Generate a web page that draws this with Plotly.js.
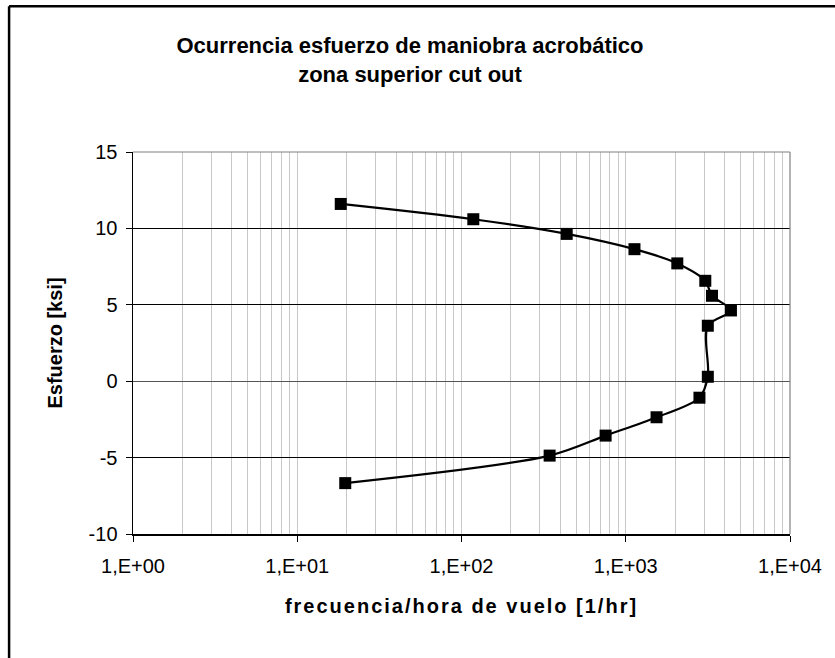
<!DOCTYPE html>
<html>
<head>
<meta charset="utf-8">
<script src="https://cdn.plot.ly/plotly-3.0.1.min.js"></script>
<style>
  html, body { margin: 0; padding: 0; background: #fff; }
  #chart { width: 835px; height: 658px; }
  .xtitle { letter-spacing: 2px; }
</style>
</head>
<body>
<div id="chart"></div>
<script>
// Data
const frecuencia = [18.4, 118, 437, 1130, 2060, 3050, 3350, 4370, 3160, 3160, 2810, 1540, 754, 344, 19.6];
const esfuerzo   = [11.6, 10.6, 9.64, 8.64, 7.71, 6.57, 5.59, 4.63, 3.63, 0.29, -1.08, -2.36, -3.56, -4.87, -6.67];

const xTickVals  = [1, 10, 100, 1000, 10000];
const xTickText  = ['1,E+00', '1,E+01', '1,E+02', '1,E+03', '1,E+04'];
const yTickVals  = [-10, -5, 0, 5, 10, 15];
const yTickText  = ['-10', '-5', '0', '5', '10', '15'];

const titleText  = 'Ocurrencia esfuerzo de maniobra acrobático<br>zona superior cut out';
const xTitleText = 'frecuencia/hora de vuelo [1/hr]';
const yTitleText = 'Esfuerzo [ksi]';

// minor grid positions (2..9 within each decade)
const minorVals = [];
for (let d = 0; d < 4; d++) {
  for (let m = 2; m <= 9; m++) minorVals.push(m * Math.pow(10, d));
}

const FONT = 'Liberation Sans, Arial, sans-serif';

const trace = {
  x: frecuencia,
  y: esfuerzo,
  type: 'scatter',
  mode: 'lines+markers',
  line: { color: '#000', width: 2.2, shape: 'spline', smoothing: 0.9 },
  marker: { symbol: 'square', size: 12, color: '#000' },
  hoverinfo: 'x+y',
  showlegend: false
};

const layout = {
  width: 835,
  height: 658,
  paper_bgcolor: '#fff',
  plot_bgcolor: '#fff',
  margin: { l: 133, r: 44.5, t: 151.7, b: 123.7 },
  font: { family: FONT, color: '#000', size: 20 },
  title: {
    text: titleText,
    font: { family: FONT, size: 22, color: '#000', weight: 'bold' },
    x: 410 / 835, xref: 'container', xanchor: 'center',
    y: 1 - 53 / 658, yref: 'container', yanchor: 'top'
  },
  xaxis: {
    type: 'log',
    range: [0, 4],
    tickmode: 'array',
    tickvals: xTickVals,
    ticktext: xTickText,
    ticks: 'outside',
    ticklen: 6,
    tickwidth: 1,
    tickcolor: '#000',
    ticklabelstandoff: 7,
    tickfont: { family: FONT, size: 20, color: '#000' },
    showline: true,
    linecolor: '#000',
    linewidth: 1.5,
    showgrid: true,
    gridcolor: '#c8c8c8',
    gridwidth: 1,
    zeroline: false,
    minor: { tickvals: minorVals, showgrid: true, gridcolor: '#c8c8c8', gridwidth: 1, ticks: '' },
    title: { text: xTitleText, font: { family: FONT, size: 20, color: '#000', weight: 'bold' }, standoff: 23 }
  },
  yaxis: {
    range: [-10, 15],
    tickmode: 'array',
    tickvals: yTickVals,
    ticktext: yTickText,
    ticks: 'outside',
    ticklen: 6,
    tickwidth: 1,
    tickcolor: '#000',
    ticklabelstandoff: 4,
    tickfont: { family: FONT, size: 20, color: '#000' },
    showline: true,
    linecolor: '#000',
    linewidth: 1.5,
    showgrid: true,
    gridcolor: '#000',
    gridwidth: 1,
    zeroline: true,
    zerolinecolor: '#555',
    zerolinewidth: 1,
    title: { text: yTitleText, font: { family: FONT, size: 20, color: '#000', weight: 'bold' }, standoff: 20 }
  },
  shapes: [
    // grey plot-area border (top and right)
    { type: 'line', xref: 'paper', yref: 'paper', x0: 0, x1: 1, y0: 1, y1: 1, line: { color: '#808080', width: 1.2 }, layer: 'above' },
    { type: 'line', xref: 'paper', yref: 'paper', x0: 1, x1: 1, y0: 0, y1: 1, line: { color: '#808080', width: 1.2 }, layer: 'above' },
    // outer chart border (left and top, continuing beyond the frame)
    { type: 'line', xref: 'paper', yref: 'paper', x0: -0.1886, x1: 1.1, y0: 1.3815, y1: 1.3815, line: { color: '#000', width: 2.5 }, layer: 'above' },
    { type: 'line', xref: 'paper', yref: 'paper', x0: -0.1886, x1: -0.1886, y0: -0.35, y1: 1.3815, line: { color: '#000', width: 2.5 }, layer: 'above' }
  ]
};

Plotly.newPlot('chart', [trace], layout, { displayModeBar: false, staticPlot: true });
</script>
</body>
</html>
